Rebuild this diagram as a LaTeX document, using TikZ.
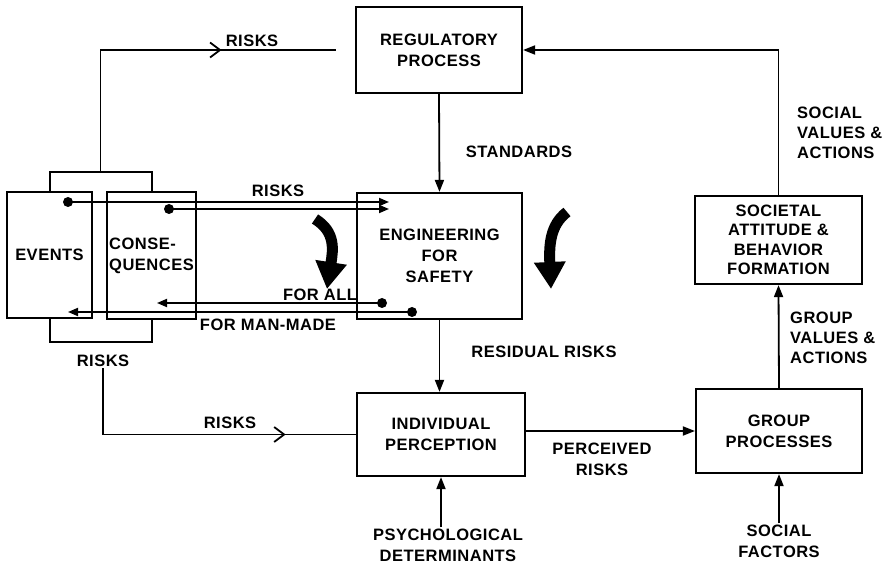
\documentclass[tikz,border=0pt]{standalone}
\usepackage{fontspec}
\newfontfamily\diagfamily{Liberation Sans}[LetterSpace=3]
\newcommand{\diagfont}{\diagfamily\bfseries\fontsize{16.5}{21}\selectfont}
\usetikzlibrary{arrows.meta,decorations.markings,calc}

\begin{document}
\begin{tikzpicture}[%
x=1pt, y=-1pt,
box/.style={draw, line width=2.2pt, inner sep=0pt, align=center, font=\diagfont},
lbl/.style={inner sep=1pt, align=center, font=\diagfont},
flow/.style={line width=1.8pt, -{Triangle[length=12pt,width=9pt]}},
link/.style={line width=1.8pt, -{Triangle[length=10pt,width=8pt]}},
bigturn/.style={line width=11pt, -{Triangle[length=27pt,width=30pt]}},
openmark/.style={line width=1.4pt, postaction={decorate}, decoration={markings,
  mark=at position #1 with {\arrow{Straight Barb[length=10pt,width=15pt,line width=1.8pt]}}}},
]
\useasboundingbox (0,0) rectangle (895,564);
%% boxes;
\node[box, minimum width=166pt, minimum height=86pt] (reg) at (439,50) {REGULATORY\\PROCESS};
\node[box, minimum width=165pt, minimum height=126pt] (eng) at (439.5,256) {ENGINEERING\\FOR\\SAFETY};
\node[box, minimum width=85pt, minimum height=126pt] (evt) at (49.5,255) {EVENTS};
\node[box, minimum width=89pt, minimum height=127pt, align=left] (csq) at (151.5,255.5) {CONSE-\\QUENCES};
\node[box, minimum width=168pt, minimum height=83pt] (ind) at (441,434.5) {INDIVIDUAL\\PERCEPTION};
\node[box, minimum width=166pt, minimum height=84pt] (grp) at (779,431) {GROUP\\PROCESSES};
\node[box, minimum width=167pt, minimum height=88pt, font=\diagfont\fontsize{16.5}{19.5}\selectfont] (soc) at (778.5,240) {SOCIETAL\\ATTITUDE \&\\BEHAVIOR\\FORMATION};
%% labels;
\node[lbl] (rtop) at (252,41) {RISKS};
\node[lbl] (std) at (519,152) {STANDARDS};
\node[lbl, align=left, anchor=west, font=\diagfont\fontsize{16.5}{20}\selectfont] (sva) at (796,133) {SOCIAL\\VALUES \&\\ACTIONS};
\node[lbl] (rmid) at (278,191) {RISKS};
\node[lbl] (fall) at (320,295) {FOR ALL};
\node[lbl] (fman) at (268,325) {FOR MAN-MADE};
\node[lbl] (rbr) at (103,361) {RISKS};
\node[lbl] (rlow) at (230,423) {RISKS};
\node[lbl] (res) at (544,352) {RESIDUAL RISKS};
\node[lbl] (prc) at (602,459) {PERCEIVED\\RISKS};
\node[lbl] (psy) at (448,545) {PSYCHOLOGICAL\\DETERMINANTS};
\node[lbl] (sfac) at (779,541) {SOCIAL\\FACTORS};
\node[lbl, align=left, anchor=west, font=\diagfont\fontsize{16.5}{20}\selectfont] (gva) at (789,338) {GROUP\\VALUES \&\\ACTIONS};
%% flows;
\draw[flow] (reg.south) -- (eng.north);
\draw[flow] (eng.south) -- (eng.south |- ind.north);
\draw[flow] (ind.east |- grp.west) -- (grp.west);
\draw[flow] (grp.north) -- (soc.south);
\draw[flow] (soc.north) |- (reg.east);
\draw[flow] (ind.south |- psy.north) -- (ind.south);
\draw[flow] (sfac.north) -- (grp.south);
%% brackets;
\draw[line width=2pt] (evt.north) -- ++(0,-19) -| (csq.north);
\draw[line width=2pt] (evt.south) -- ++(0,23) -| (csq.south);
\coordinate (tbm) at ($(evt.north)!0.5!(csq.north) + (0,-19)$);
\coordinate (rgap) at ($(reg.west) + (-19,0)$);
\draw[openmark=0.68] (tbm) |- (rgap);
\draw[openmark=0.78] (rbr.south) |- (ind.west);
%% risk links;
\coordinate (evtout) at (68,202);
\coordinate (csqout) at (169,209);
\coordinate (engin1) at (389,202);
\coordinate (engin2) at (389,209);
\coordinate (engall) at (382,303);
\coordinate (engman) at (412,312);
\coordinate (csqin) at (157,303);
\coordinate (evtin) at (68,312);
\draw[link] (evtout) -- (engin1);
\draw[link] (csqout) -- (engin2);
\draw[link] (engall) -- (csqin);
\draw[link] (engman) -- (evtin);
\foreach \dot in {evtout,csqout,engall,engman}
  \fill (\dot) circle (5pt);
%% curved arrows;
\draw[bigturn] (315,219) .. controls (336,232) and (333,250) .. (327,289);
\draw[bigturn] (567,212) .. controls (550,225) and (549,245) .. (551,289);
\end{tikzpicture}
\end{document}
